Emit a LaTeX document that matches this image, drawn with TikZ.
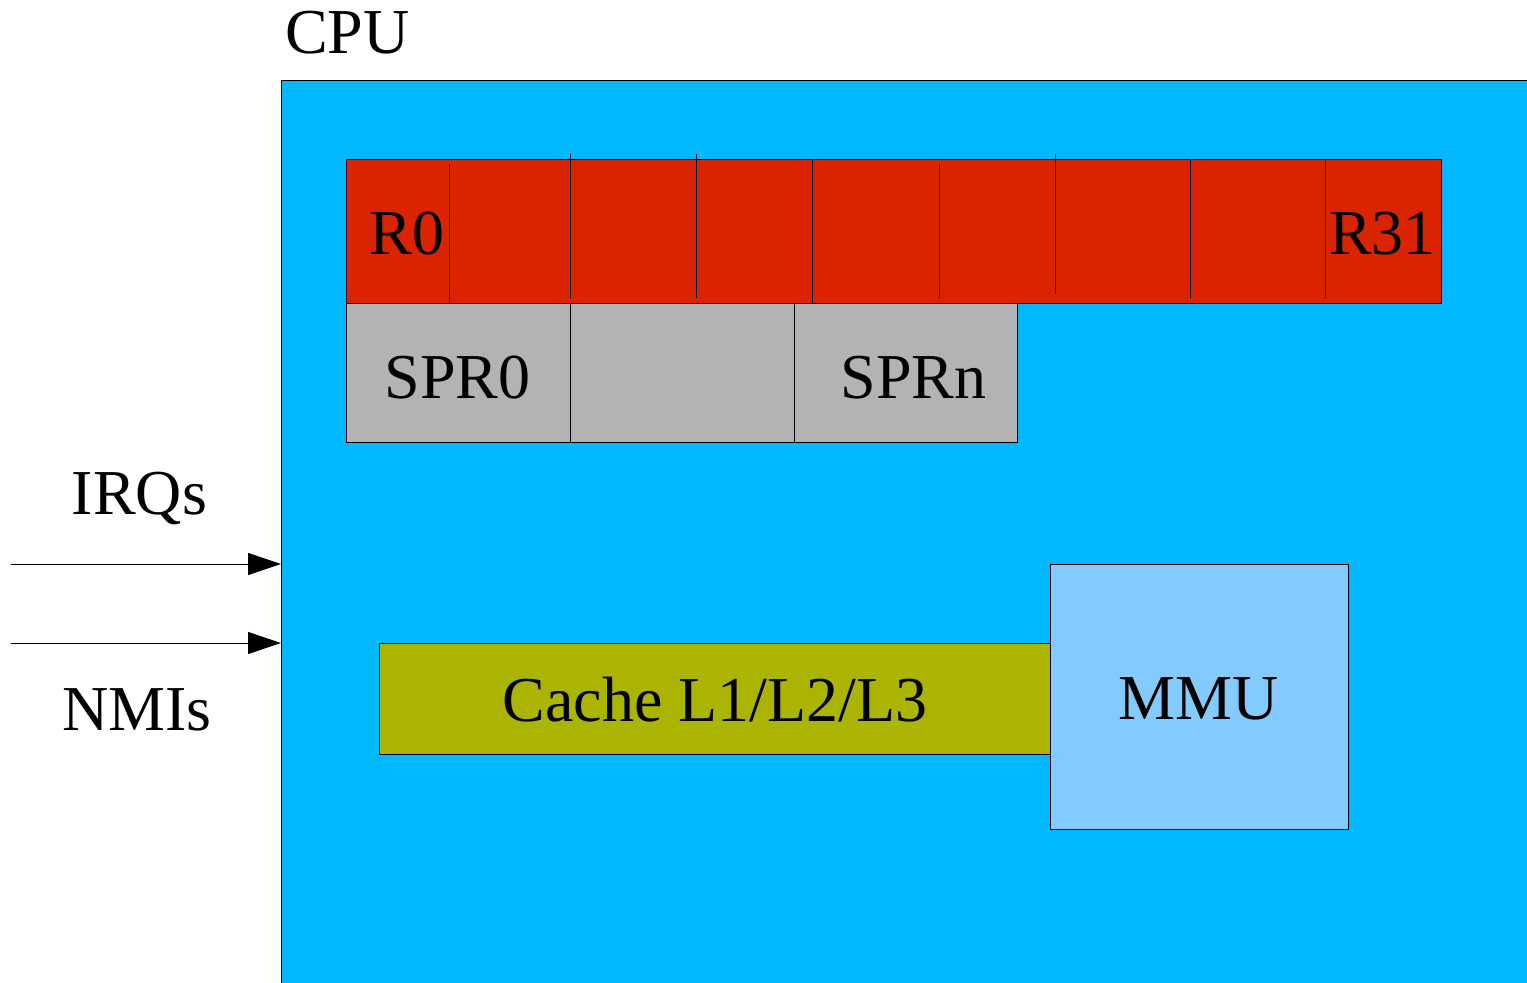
\documentclass[tikz,border=0pt]{standalone}
\usepackage{fontspec}
\setmainfont{Liberation Serif}
\usetikzlibrary{arrows.meta}
\definecolor{cpublue}{HTML}{00B8FF}
\definecolor{regred}{HTML}{DA2300}
\definecolor{sprgray}{HTML}{B3B3B3}
\definecolor{cachegreen}{HTML}{ABB400}
\definecolor{mmublue}{HTML}{83CAFF}
\tikzset{
  box/.style={draw=black, line width=1pt, rectangle, inner sep=0pt, outer sep=0pt},
  lbl/.style={anchor=base, inner sep=0pt, font=\fontsize{64}{72}\selectfont},
  sep/.style={line width=1pt, draw=black},
  sig/.style={line width=1pt, draw=black, -{Triangle[length=33pt,width=22pt]}}
}
\begin{document}
\begin{tikzpicture}[x=1pt,y=-1pt]
\useasboundingbox (0,0) rectangle (1527,983);
\clip (0,0) rectangle (1527,983);
% CPU
\node[box, fill=cpublue, anchor=north west, minimum width=1280pt, minimum height=940pt] (cpu) at (281,80) {};
\node[lbl] (cpulbl) at (347.5,53) {CPU};
% registers
\node[box, fill=regred, anchor=north west, minimum width=1095pt, minimum height=144pt] (regs) at (346,159) {};
\draw[sep] (449,164) -- (449,303);
\draw[sep] (570,154) -- (570,298);
\draw[sep] (696,154) -- (696,298);
\draw[sep] (812,159) -- (812,303);
\draw[sep] (939,164) -- (939,298);
\draw[sep] (1055,154) -- (1055,294);
\draw[sep] (1190,159) -- (1190,298);
\draw[sep] (1325,159) -- (1325,298);
\node[lbl] (r0) at (407,254) {R0};
\node[lbl] (r31) at (1382.5,254) {R31};
% SPRs
\node[box, fill=sprgray, anchor=north west, minimum width=224pt, minimum height=139pt] (spr0) at (346,303) {};
\node[box, fill=sprgray, anchor=north west, minimum width=224pt, minimum height=139pt] (spr1) at (570,303) {};
\node[box, fill=sprgray, anchor=north west, minimum width=223pt, minimum height=139pt] (sprn) at (794,303) {};
\node[lbl] (spr0lbl) at (457.5,398) {SPR0};
\node[lbl] (sprnlbl) at (913.5,398) {SPRn};
% cache and MMU
\node[box, fill=cachegreen, anchor=north west, minimum width=671pt, minimum height=111pt] (cache) at (379,643) {};
\node[box, fill=mmublue, anchor=north west, minimum width=298pt, minimum height=265pt] (mmu) at (1050,564) {};
\node[lbl] (cachelbl) at (715,721) {Cache L1/L2/L3};
\node[lbl] (mmulbl) at (1199,719) {MMU};
% signals
\node[lbl] (irqlbl) at (139.5,514) {IRQs};
\node[lbl] (nmilbl) at (137,730) {NMIs};
\coordinate (irqsrc) at (11,564);
\coordinate (irqin) at (281,564);
\coordinate (nmisrc) at (11,643);
\coordinate (nmiin) at (281,643);
\draw[sig] (irqsrc) -- (irqin);
\draw[sig] (nmisrc) -- (nmiin);
\end{tikzpicture}
\end{document}
